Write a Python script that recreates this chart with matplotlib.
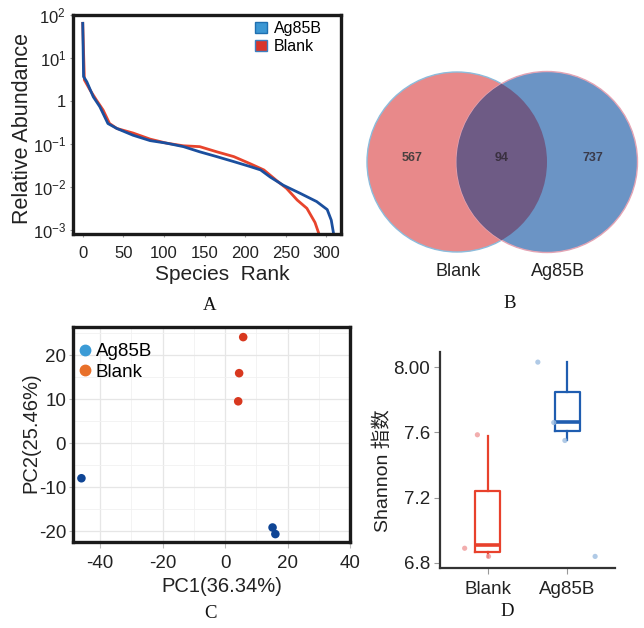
import matplotlib
matplotlib.use('Agg')
import matplotlib.pyplot as plt
from matplotlib.patches import Circle, Patch
from matplotlib.lines import Line2D

plt.rcParams['font.family'] = ['Liberation Sans', 'Noto Sans CJK SC', 'DejaVu Sans']
plt.rcParams['mathtext.fontset'] = 'custom'
plt.rcParams['mathtext.rm'] = 'Liberation Sans'
plt.rcParams['axes.unicode_minus'] = False

# ---------------- data ----------------
# A: rank-abundance curves
rank_ag85b = [0, 1, 5, 13, 21, 31, 42, 62, 83, 103, 124, 144, 165, 186, 206, 219, 231, 247, 268, 288, 301, 306, 309]
abund_ag85b = [64, 3.7, 2.8, 1.25, 0.74, 0.30, 0.23, 0.16, 0.12, 0.105, 0.087, 0.066, 0.051, 0.039, 0.030,
               0.025, 0.017, 0.011, 0.0071, 0.0046, 0.0030, 0.0017, 0.0008]
rank_blank = [0, 2, 9, 17, 25, 33, 42, 62, 83, 103, 124, 144, 165, 186, 206, 223, 239, 251, 264, 276, 286, 291]
abund_blank = [64, 3.1, 1.8, 1.04, 0.62, 0.30, 0.23, 0.18, 0.13, 0.105, 0.091, 0.087, 0.066, 0.051, 0.035,
               0.025, 0.014, 0.0093, 0.005, 0.0032, 0.0015, 0.0008]
a_xticks = [0, 50, 100, 150, 200, 250, 300]
a_yticks = [1e2, 1e1, 1, 1e-1, 1e-2, 1e-3]
a_yticklabels = [r'$\mathregular{10^{2}}$', r'$\mathregular{10^{1}}$', '1',
                 r'$\mathregular{10^{-1}}$', r'$\mathregular{10^{-2}}$', r'$\mathregular{10^{-3}}$']

# B: Venn counts
venn_labels = ['Blank', 'Ag85B']
venn_only_blank = 567
venn_shared = 94
venn_only_ag85b = 737

# C: PCA
pc1_ag85b = [-46.0, 15.2, 16.1]
pc2_ag85b = [-8.0, -19.2, -20.7]
pc1_blank = [5.8, 4.5, 4.2]
pc2_blank = [24.1, 15.9, 9.5]
c_xticks = [-40, -20, 0, 20, 40]
c_yticks = [-20, -10, 0, 10, 20]

# D: Shannon boxplot
groups = ['Blank', 'Ag85B']
box_whislo = [6.837, 7.551]
box_q1 = [6.867, 7.606]
box_med = [6.91, 7.661]
box_q3 = [7.24, 7.85]
box_whishi = [7.576, 8.028]
pts_blank = [6.89, 7.585, 6.84]
jit_blank = [-0.29, -0.13, 0.01]
pts_ag85b = [8.03, 7.55, 7.66, 6.84]
jit_ag85b = [-0.37, -0.03, -0.17, 0.35]
d_yticks = [6.8, 7.2, 7.6, 8.0]
d_yticklabels = ['6.8', '7.2', '7.6', '8.00']

# ---------------- figure ----------------
W, H = 644, 628
fig = plt.figure(figsize=(W / 100, H / 100), dpi=100)


def px(l, t, r, b):
    return [l / W, 1 - b / H, (r - l) / W, (b - t) / H]


BLUE_A = '#1b4f9e'
RED_A = '#e8442c'

# ---- Panel A ----
axA = fig.add_axes(px(73, 15, 341, 234))
axA.plot(rank_blank, abund_blank, color=RED_A, lw=2.0, solid_joinstyle='round')
axA.plot(rank_ag85b, abund_ag85b, color=BLUE_A, lw=2.0, solid_joinstyle='round')
axA.set_yscale('log')
axA.set_xlim(-12, 318)
axA.set_ylim(8.1e-4, 100)
axA.set_xticks(a_xticks)
axA.set_yticks(a_yticks)
axA.set_yticklabels(a_yticklabels)
axA.minorticks_off()
axA.tick_params(axis='both', labelsize=12, colors='#999999', labelcolor='#222222', length=2)
axA.tick_params(axis='x', pad=7)
axA.tick_params(axis='y', pad=3)
for s in axA.spines.values():
    s.set_linewidth(2.4)
    s.set_color('#1a1a1a')
axA.set_xlabel('Species  Rank', fontsize=15, color='#222222')
axA.xaxis.set_label_coords((222 - 73) / 268, -(275 - 234) / 219)
axA.xaxis.label.set_va('center')
axA.set_ylabel('Relative Abundance', fontsize=15.5, color='#222222')
axA.yaxis.set_label_coords(-(73 - 23) / 268, 1 - (128 - 15) / 219)
axA.yaxis.label.set_va('center')
axA.legend(handles=[Patch(facecolor='#3c97d3', edgecolor='#1f6fb0', label='Ag85B'),
                    Patch(facecolor='#d9352a', edgecolor='#3c7fc0', label='Blank')],
           loc='upper left', bbox_to_anchor=((255 - 73) / 268, 1 - (21 - 15) / 219),
           frameon=False, fontsize=11.5, handlelength=0.75, handleheight=0.75,
           handletextpad=0.45, labelspacing=0.2, borderaxespad=0, borderpad=0)

# ---- overlay axes for Venn and panel letters ----
axO = fig.add_axes([0, 0, 1, 1])
axO.set_xlim(0, W)
axO.set_ylim(H, 0)
axO.axis('off')
axO.patch.set_visible(False)

left_c = Circle((457, 162), 90, facecolor='#e8898a', edgecolor='#8cbcdc', lw=1.0)
right_c = Circle((547, 162), 90.5, facecolor='#6b94c5', edgecolor='#e4a4b4', lw=1.0)
axO.add_patch(left_c)
axO.add_patch(right_c)
clipc = Circle((457, 162), 90, transform=axO.transData)
overlap = Circle((547, 162), 90.5, facecolor='#6e5b85', edgecolor='none')
axO.add_patch(overlap)
overlap.set_clip_path(clipc)
axO.text(412, 158, str(venn_only_blank), ha='center', va='center', fontsize=9, fontweight='bold', color='#4a4040')
axO.text(502, 158, str(venn_shared), ha='center', va='center', fontsize=9, fontweight='bold', color='#3a3040')
axO.text(593, 158, str(venn_only_ag85b), ha='center', va='center', fontsize=9, fontweight='bold', color='#3a3a4a')
axO.text(458, 272, venn_labels[0], ha='center', va='center', fontsize=13, color='#222222')
axO.text(558, 272, venn_labels[1], ha='center', va='center', fontsize=13, color='#222222')

for lab, (x, y) in zip('ABCD', [(210, 306), (510, 304), (211, 613), (507, 612)]):
    axO.text(x, y, lab, ha='center', va='center', fontsize=13.5, family='Liberation Serif', color='#111111')

# ---- Panel C ----
axC = fig.add_axes(px(73, 327, 350, 542))
axC.set_xlim(-48.7, 39.3)
axC.set_ylim(-22.5, 26.4)
axC.set_xticks(c_xticks)
axC.set_yticks(c_yticks)
axC.set_xticks([-30, -10, 10, 30], minor=True)
axC.set_yticks([-15, -5, 5, 15, 25], minor=True)
axC.grid(True, which='major', color='#e6e6e6', lw=0.9)
axC.grid(True, which='minor', color='#f1f1f1', lw=0.6)
axC.set_axisbelow(True)
axC.tick_params(axis='both', which='minor', length=0)
axC.tick_params(axis='both', which='major', labelsize=13.5, colors='#bbbbbb', labelcolor='#222222')
axC.tick_params(axis='x', which='major', length=4, pad=5)
axC.tick_params(axis='y', which='major', length=3, pad=2)
for s in axC.spines.values():
    s.set_linewidth(2.4)
    s.set_color('#1a1a1a')
axC.scatter(pc1_blank, pc2_blank, s=38, color='#d8381f', edgecolors='none', zorder=3)
axC.scatter(pc1_ag85b, pc2_ag85b, s=38, color='#0f4595', edgecolors='none', zorder=3)
axC.set_xlabel('PC1(36.34%)', fontsize=14.5, color='#222222')
axC.xaxis.set_label_coords((222 - 73) / 277, -(587 - 542) / 215)
axC.xaxis.label.set_va('center')
axC.set_ylabel('PC2(25.46%)', fontsize=14.5, color='#222222')
axC.yaxis.set_label_coords(-(73 - 31) / 277, 1 - (433 - 327) / 215)
axC.yaxis.label.set_va('center')
axC.legend(handles=[Line2D([], [], marker='o', ls='none', markersize=7.5, color='#3b9bd6', label='Ag85B'),
                    Line2D([], [], marker='o', ls='none', markersize=7.5, color='#e8702a', label='Blank')],
           loc='upper left', bbox_to_anchor=((79 - 73) / 277, 1 - (343 - 327) / 215),
           frameon=False, fontsize=13.5, handlelength=0.6, handletextpad=0.3, labelspacing=0.2,
           borderaxespad=0, borderpad=0)

# ---- Panel D ----
axD = fig.add_axes(px(440, 352, 615, 568))
cols = ['#e8412c', '#1f5db0']
stats = []
for i, g in enumerate(groups):
    stats.append(dict(label=g, med=box_med[i], q1=box_q1[i], q3=box_q3[i],
                      whislo=box_whislo[i], whishi=box_whishi[i], fliers=[]))
for i in range(2):
    axD.bxp([stats[i]], positions=[i + 1], widths=0.31, showcaps=False, patch_artist=False,
            boxprops=dict(color=cols[i], lw=1.6),
            whiskerprops=dict(color=cols[i], lw=1.6),
            medianprops=dict(color=cols[i], lw=2.6),
            manage_ticks=False)
axD.scatter([1 + j for j in jit_blank], pts_blank, s=14, color='#ef9a9a', alpha=0.8, edgecolors='none', zorder=3)
axD.scatter([2 + j for j in jit_ag85b], pts_ag85b, s=14, color='#9dbde0', alpha=0.8, edgecolors='none', zorder=3)
axD.set_xlim(0.4, 2.6)
axD.set_ylim(6.769, 8.092)
axD.set_xticks([1, 2])
axD.set_xticklabels(groups)
axD.set_yticks(d_yticks)
axD.set_yticklabels(d_yticklabels)
axD.tick_params(axis='both', labelsize=13.5, colors='#999999', labelcolor='#222222', length=4)
axD.tick_params(axis='x', pad=5)
axD.tick_params(axis='y', pad=3)
for k in ['top', 'right']:
    axD.spines[k].set_visible(False)
for k in ['left', 'bottom']:
    axD.spines[k].set_linewidth(1.6)
    axD.spines[k].set_color('#333333')
axD.set_ylabel('Shannon 指数', fontsize=14, color='#222222')
axD.yaxis.set_label_coords(-(440 - 383) / 175, 1 - (471 - 352) / 216)
axD.yaxis.label.set_va('center')

fig.savefig('out.png', dpi=100)
